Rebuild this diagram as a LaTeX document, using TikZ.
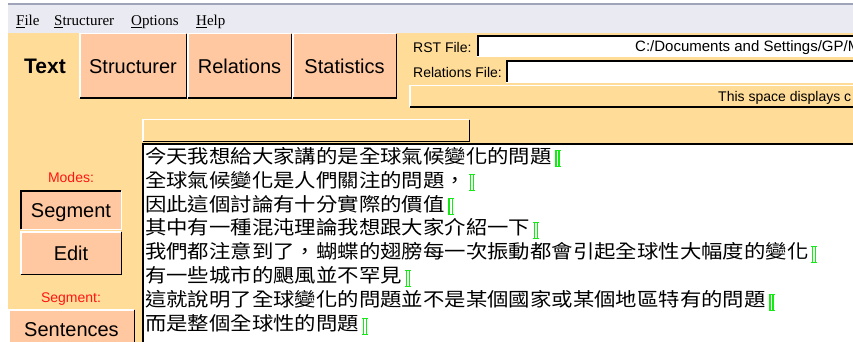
\documentclass[tikz,border=0pt]{standalone}
\usepackage{fontspec}
\usepackage{graphicx}
\setmainfont{Liberation Sans}
\newfontfamily\menufont{Liberation Serif}
\newfontfamily\cjk{Noto Sans CJK TC}
\definecolor{appbg}{RGB}{255,221,153}
\definecolor{btnbg}{RGB}{255,200,160}
\definecolor{menubg}{RGB}{234,234,242}
\definecolor{menuline}{RGB}{160,164,186}
\definecolor{mkgreen}{RGB}{20,235,20}
\definecolor{lblred}{RGB}{255,20,20}
\definecolor{edgegray}{RGB}{110,110,110}
\newcommand\fs[1]{\fontsize{#1}{#1}\selectfont}
\newcommand\mk{\kern3pt{\color{mkgreen}\rlap{\rule[-4pt]{6pt}{1pt}}\rlap{\rule[12pt]{6pt}{1pt}}\rlap{\kern0.6pt\rule[-4pt]{1.3pt}{17pt}}\kern3.8pt\rule[-4pt]{1.1pt}{17pt}}}
\newcommand\cjkt[1]{\scalebox{1.126}[1]{#1}}
\newcommand\raisededge[1]{%
  \draw[white, line width=1.5pt] ([shift={(.75pt,.75pt)}]#1.south west) -- ([shift={(.75pt,-.75pt)}]#1.north west) -- ([shift={(-.75pt,-.75pt)}]#1.north east);
  \draw[black, line width=1.5pt] ([shift={(-.75pt,-.75pt)}]#1.north east) -- ([shift={(-.75pt,.75pt)}]#1.south east) -- ([shift={(.75pt,.75pt)}]#1.south west);}
\newcommand\sunkenedge[1]{%
  \draw[white, line width=1.5pt] ([shift={(-.75pt,-.75pt)}]#1.north east) -- ([shift={(-.75pt,.75pt)}]#1.south east) -- ([shift={(.75pt,.75pt)}]#1.south west);
  \draw[black, line width=2pt] ([shift={(1pt,1pt)}]#1.south west) -- ([shift={(1pt,-1pt)}]#1.north west) -- ([shift={(-1pt,-1pt)}]#1.north east);}
\tikzset{
  box/.style={anchor=north west, inner sep=0pt, outer sep=0pt},
  btn/.style={box, fill=btnbg, font=\fs{20}, text height=14.3pt, text depth=0pt},
  lbl/.style={inner sep=0pt, anchor=base west, font=\fs{14}},
  menuitem/.style={inner sep=0pt, anchor=base west, font=\menufont\fs{15}},
  modelbl/.style={inner sep=0pt, font=\fs{14}, text=lblred, text height=10pt, text depth=0pt},
  cjkline/.style={inner sep=0pt, anchor=base west, font=\cjk\fs{19}},
}
\begin{document}
\begin{tikzpicture}[x=1pt,y=-1pt]
\useasboundingbox (0,0) rectangle (853,342);
\clip (0,0) rectangle (853,342);
\fill[white] (0,0) rectangle (853,342);
% menu bar and body
\fill[menubg] (8,4) rectangle (853,33);
\draw[menuline, line width=1.2pt] (8,4) -- (853,4);
\fill[appbg] (8,33) rectangle (853,342);
\node[menuitem] (mfile) at (16,26) {\underline{F}ile};
\node[menuitem] (mstruct) at (54,26) {\underline{S}tructurer};
\node[menuitem] (mopt) at (131,26) {\underline{O}ptions};
\node[menuitem] (mhelp) at (196,26) {\underline{H}elp};
% tabs
\node[inner sep=0pt, anchor=base west, font=\bfseries\fs{21}] (ttext) at (24,74) {Text};
\node[btn, minimum width=108, minimum height=66] (tstruct) at (79,33) {Structurer};
\node[btn, minimum width=105, minimum height=66] (trel) at (187,33) {Relations};
\node[btn, minimum width=105, minimum height=66] (tstat) at (292,33) {Statistics};
\raisededge{tstruct}\raisededge{trel}\raisededge{tstat}
% file fields
\node[lbl] (rstlbl) at (413,53) {RST File:};
\node[lbl] (rellbl) at (413,78) {Relations File:};
\node[box, fill=white, minimum width=400, minimum height=22] (rstbox) at (477,35) {};
\node[box, fill=white, minimum width=400, minimum height=23] (relbox) at (506,60) {};
\sunkenedge{rstbox}\sunkenedge{relbox}
\node[lbl, font=\fs{15}] (rstpath) at (635,52) {C:/Documents and Settings/GP/M};
\node[box, fill=appbg, minimum width=470, minimum height=23] (infobar) at (409,85) {};
\raisededge{infobar}
\node[lbl] (infotext) at (718,102) {This space displays c};
% left column
\node[modelbl] (modes) at (71,177) {Modes:};
\node[btn, minimum width=102, minimum height=40] (bseg) at (20,190) {Segment};
\sunkenedge{bseg}
\node[btn, minimum width=102, minimum height=44] (bedit) at (20,231) {Edit};
\raisededge{bedit}
\node[modelbl] (segl) at (71,297) {Segment:};
\node[btn, minimum width=127, minimum height=41] (bsent) at (8,309) {Sentences};
\raisededge{bsent}
% text area
\node[box, fill=appbg, minimum width=328, minimum height=23] (topbtn) at (142,119) {};
\raisededge{topbtn}
\node[box, fill=white, minimum width=720, minimum height=210] (textarea) at (142,143) {};
\sunkenedge{textarea}
\node[cjkline] (l1) at (145,163.2) {\cjkt{今天我想給大家講的是全球氣候變化的問題}\mk};
\node[cjkline] (l2) at (145,187.1) {\cjkt{全球氣候變化是人們關注的問題，}\mk};
\node[cjkline] (l3) at (145,211.0) {\cjkt{因此這個討論有十分實際的價值}\mk};
\node[cjkline] (l4) at (145,234.9) {\cjkt{其中有一種混沌理論我想跟大家介紹一下}\mk};
\node[cjkline] (l5) at (145,258.8) {\cjkt{我們都注意到了，蝴蝶的翅膀每一次振動都會引起全球性大幅度的變化}\mk};
\node[cjkline] (l6) at (145,282.7) {\cjkt{有一些城市的颶風並不罕見}\mk};
\node[cjkline] (l7) at (145,306.6) {\cjkt{這就說明了全球變化的問題並不是某個國家或某個地區特有的問題}\mk};
\node[cjkline] (l8) at (145,330.5) {\cjkt{而是整個全球性的問題}\mk};
\end{tikzpicture}
\end{document}
